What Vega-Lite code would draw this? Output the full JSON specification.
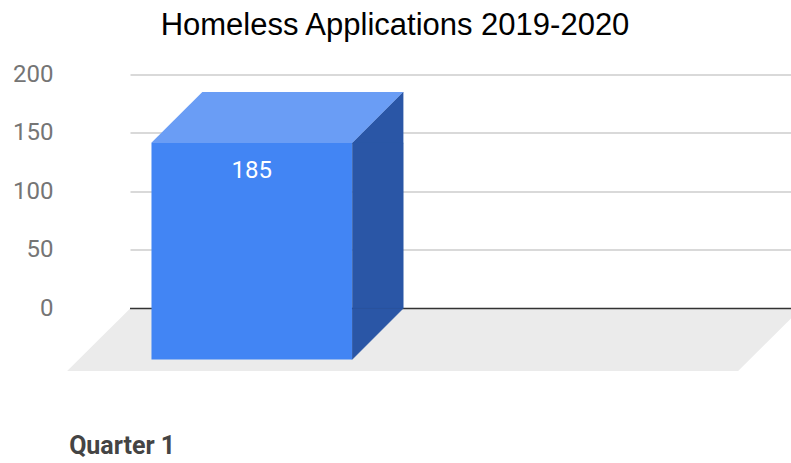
{
  "$schema": "https://vega.github.io/schema/vega-lite/v6.json",
  "autosize": {"type": "none"},
  "width": 661,
  "height": 296.5,
  "padding": {"left": 130, "top": 74.5, "right": 0, "bottom": 92},
  "background": "white",
  "title": {
    "text": "Homeless Applications 2019-2020",
    "font": "Liberation Sans",
    "fontSize": 31,
    "fontWeight": "normal",
    "color": "#000000",
    "anchor": "middle",
    "dx": -65.5,
    "baseline": "alphabetic",
    "offset": -3
  },
  "config": {
    "view": {"stroke": null},
    "axis": {"labelFont": "Roboto", "domain": false, "ticks": false, "tickSize": 0}
  },
  "data": {"values": [{"quarter": "Quarter 1", "applications": 185}]},
  "layer": [
    {
      "mark": {"type": "point", "filled": true, "opacity": 1, "size": 4, "fill": "#ebebeb", "strokeWidth": 0,
        "shape": "M-172.6,0L498.4,0L435.4,62.6L-235.6,62.6Z"},
      "encoding": {
        "x": {
          "field": "quarter",
          "type": "nominal",
          "scale": {"type": "band", "paddingInner": 0.1292, "paddingOuter": 1, "align": 0.1574},
          "axis": {
            "title": null,
            "labelAngle": 0,
            "labelAlign": "left",
            "labelBaseline": "middle",
            "labelOffset": -233.6,
            "labelPadding": 74,
            "labelFontSize": 25,
            "labelFontWeight": "bold",
            "labelColor": "#444444",
            "labelOverlap": false,
            "labelBound": false,
            "grid": false
          }
        },
        "y": {
          "datum": 0,
          "type": "quantitative",
          "scale": {"domain": [-53.5, 200], "nice": false, "zero": false},
          "axis": {
            "title": null,
            "values": [0, 50, 100, 150, 200],
            "labelFontSize": 24,
            "labelColor": "#757575",
            "labelPadding": 77,
            "labelOverlap": false,
            "labelFlush": false,
            "grid": true,
            "gridColor": "#cccccc",
            "gridWidth": 1.3
          }
        }
      }
    },
    {
      "mark": {"type": "rule", "color": "#333333", "strokeWidth": 1.6},
      "encoding": {"y": {"datum": 0, "type": "quantitative"}}
    },
    {
      "mark": {"type": "bar", "width": 51, "xOffset": 75, "x2Offset": 75, "yOffset": 51, "y2Offset": 0.01, "fill": "#2a56a6", "stroke": "#2a56a6", "strokeWidth": 0.5},
      "encoding": {
        "x": {"field": "quarter", "type": "nominal"},
        "y": {"field": "applications", "type": "quantitative"},
        "y2": {"datum": 0}
      }
    },
    {
      "mark": {"type": "point", "filled": true, "opacity": 1, "size": 4, "fill": "#2a56a6", "stroke": "#2a56a6", "strokeWidth": 0.5,
        "shape": "M49.4,51L100.4,0L100.4,51Z"},
      "encoding": {
        "x": {"field": "quarter", "type": "nominal"},
        "y": {"field": "applications", "type": "quantitative"}
      }
    },
    {
      "mark": {"type": "point", "filled": true, "opacity": 1, "size": 4, "fill": "#2a56a6", "stroke": "#2a56a6", "strokeWidth": 0.5,
        "shape": "M49.4,0L49.4,51L100.4,0Z"},
      "encoding": {
        "x": {"field": "quarter", "type": "nominal"},
        "y": {"datum": 0, "type": "quantitative"}
      }
    },
    {
      "mark": {"type": "point", "filled": true, "opacity": 1, "size": 4, "fill": "#6a9df5", "strokeWidth": 0,
        "shape": "M-151.6,51L-100.4,0L100.4,0L49.4,51Z"},
      "encoding": {
        "x": {"field": "quarter", "type": "nominal"},
        "y": {"field": "applications", "type": "quantitative"}
      }
    },
    {
      "mark": {"type": "bar", "xOffset": -51, "x2Offset": -51, "yOffset": 51, "y2Offset": 51, "fill": "#4285f4"},
      "encoding": {
        "x": {"field": "quarter", "type": "nominal"},
        "y": {"field": "applications", "type": "quantitative"}
      }
    },
    {
      "mark": {"type": "text", "xOffset": -51, "yOffset": 79, "font": "Roboto", "fontSize": 24, "color": "#ffffff", "baseline": "middle", "align": "center"},
      "encoding": {
        "x": {"field": "quarter", "type": "nominal"},
        "y": {"field": "applications", "type": "quantitative"},
        "text": {"field": "applications", "type": "quantitative"}
      }
    }
  ]
}
